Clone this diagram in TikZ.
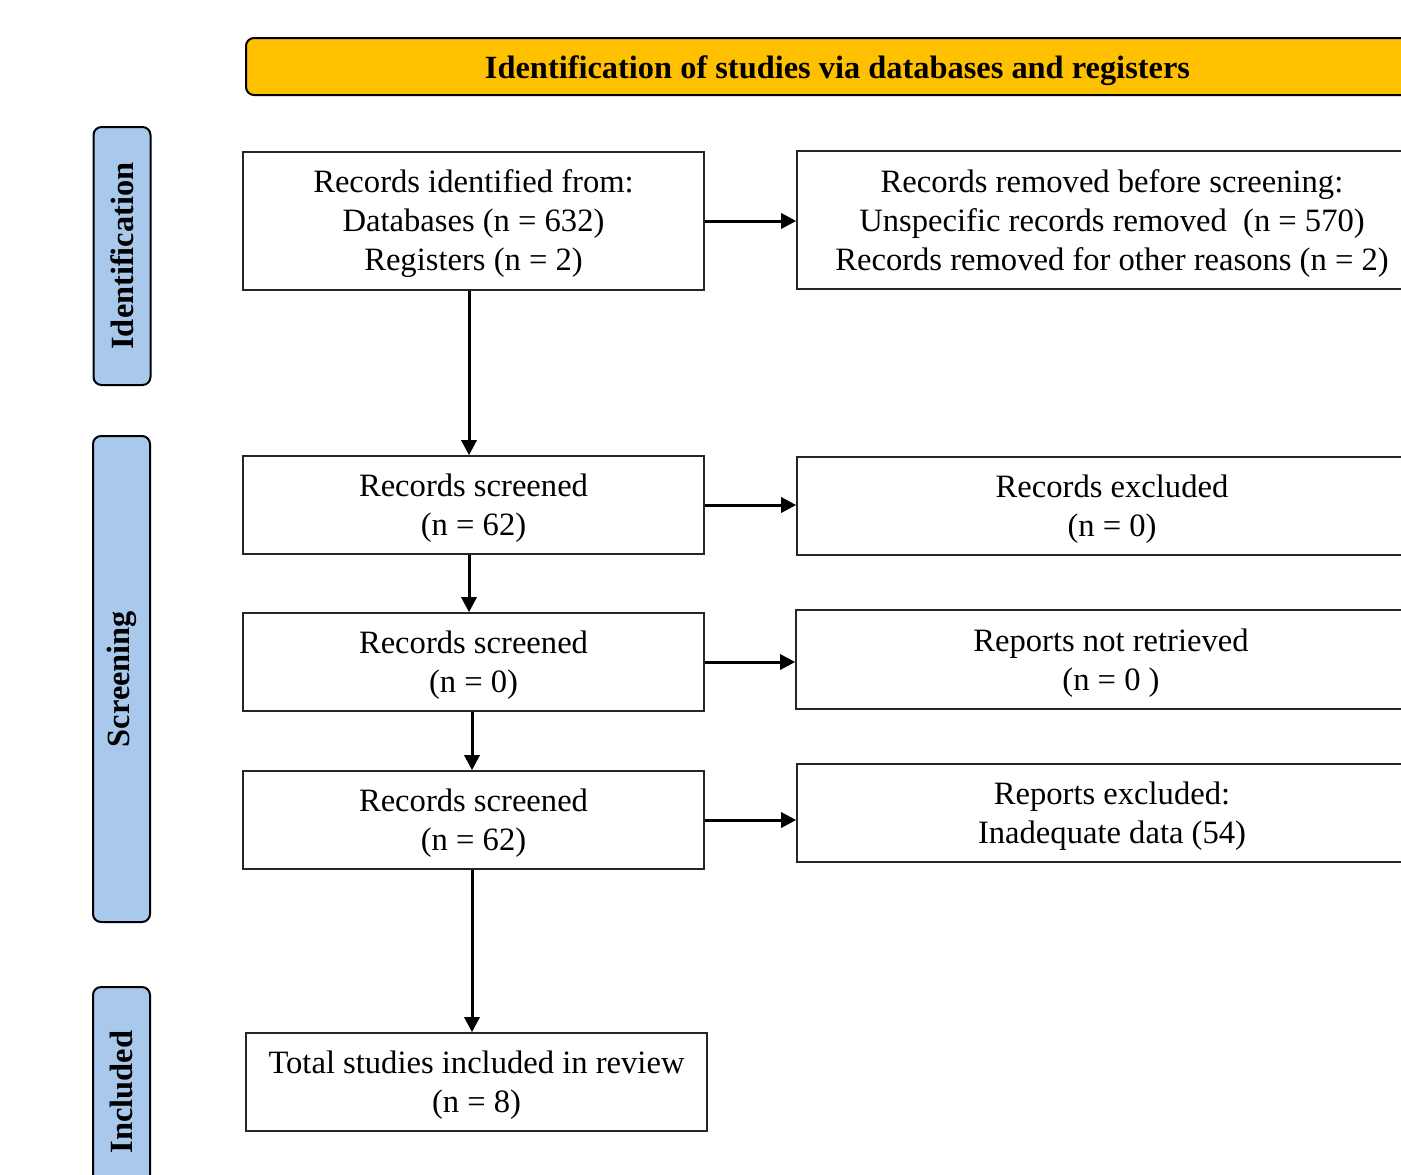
\documentclass[tikz,border=0pt]{standalone}
\usepackage{fontspec}
\setmainfont{Liberation Serif}
\usetikzlibrary{arrows.meta}
\definecolor{hdrgold}{HTML}{FFC000}
\definecolor{sideblue}{HTML}{A9C9EC}
\newcommand\mystrut{\rule{0pt}{14.5pt}}
\begin{document}
\begin{tikzpicture}[x=0.5pt,y=-0.5pt,
  box/.style={draw=black!85, line width=0.8pt, fill=white, align=center, inner sep=0pt,
    font=\fontsize{16.3}{19.5}\selectfont},
  lbox/.style={box, minimum width=230.5pt},
  rbox/.style={box, minimum width=315pt},
  sidelab/.style={draw=black, line width=1pt, fill=sideblue, rounded corners=4pt, rotate=90,
    inner sep=0pt, minimum height=28.5pt, font=\fontsize{16.2}{18}\selectfont\bfseries},
  arr/.style={line width=1.5pt, -{Triangle[length=7.5pt,width=7.5pt]}}]
\useasboundingbox (0,0) rectangle (1401,1174);
\clip (0,0) rectangle (1401,1174);
\fill[white] (0,0) rectangle (1401,1174);
% header
\node[draw=black, line width=1pt, fill=hdrgold, rounded corners=4pt, minimum width=591.5pt,
  minimum height=28.5pt, inner sep=0pt, font=\fontsize{16.2}{18}\selectfont\bfseries]
  (hdr) at (837.5,66.5) {\raisebox{-2pt}[\height][\depth]{Identification of studies via databases and registers}};
% side labels
\node[sidelab, minimum width=129pt] (sid) at (122,256) {Identification};
\node[sidelab, minimum width=243pt] (ssc) at (121.5,679) {Screening};
\node[sidelab, minimum width=105pt] (sin) at (121.5,1092) {Included};
% left column
\node[lbox, minimum height=69pt] (l1) at (473.5,221) {\mystrut Records identified from:\\Databases (n = 632)\\Registers (n = 2)};
\node[lbox, minimum height=49pt] (l2) at (473.5,505) {\mystrut Records screened\\(n = 62)};
\node[lbox, minimum height=49pt] (l3) at (473.5,662) {\mystrut Records screened\\(n = 0)};
\node[lbox, minimum height=49pt] (l4) at (473.5,820) {\mystrut Records screened\\(n = 62)};
\node[lbox, minimum height=49pt] (l5) at (476.5,1082) {\mystrut Total studies included in review\\(n = 8)};
% right column
\node[rbox, minimum height=69pt] (r1) at (1112,220) {\mystrut Records removed before screening:\\Unspecific records removed\ \ (n = 570)\\Records removed for other reasons (n = 2)};
\node[rbox, minimum height=49pt] (r2) at (1112,506) {\mystrut Records excluded\\(n = 0)};
\node[rbox, minimum height=49.5pt] (r3) at (1111,659.5) {\mystrut Reports not retrieved\\(n = 0 )};
\node[rbox, minimum height=49pt] (r4) at (1112,813) {\mystrut Reports excluded:\\Inadequate data (54)};
% arrows
\draw[arr] (l1.east) -- (l1.east -| r1.west);
\draw[arr] (l2.east) -- (l2.east -| r2.west);
\draw[arr] (l3.east) -- (l3.east -| r3.west);
\draw[arr] (l4.east) -- (l4.east -| r4.west);
\draw[arr] ([xshift=-2.25pt]l1.south) -- ([xshift=-2.25pt]l2.north);
\draw[arr] ([xshift=-2.25pt]l2.south) -- ([xshift=-2.25pt]l3.north);
\draw[arr] ([xshift=-0.75pt]l3.south) -- ([xshift=-0.75pt]l4.north);
\draw[arr] ([xshift=-0.75pt]l4.south) -- ([xshift=-0.75pt]l4.south |- l5.north);
\end{tikzpicture}
\end{document}
